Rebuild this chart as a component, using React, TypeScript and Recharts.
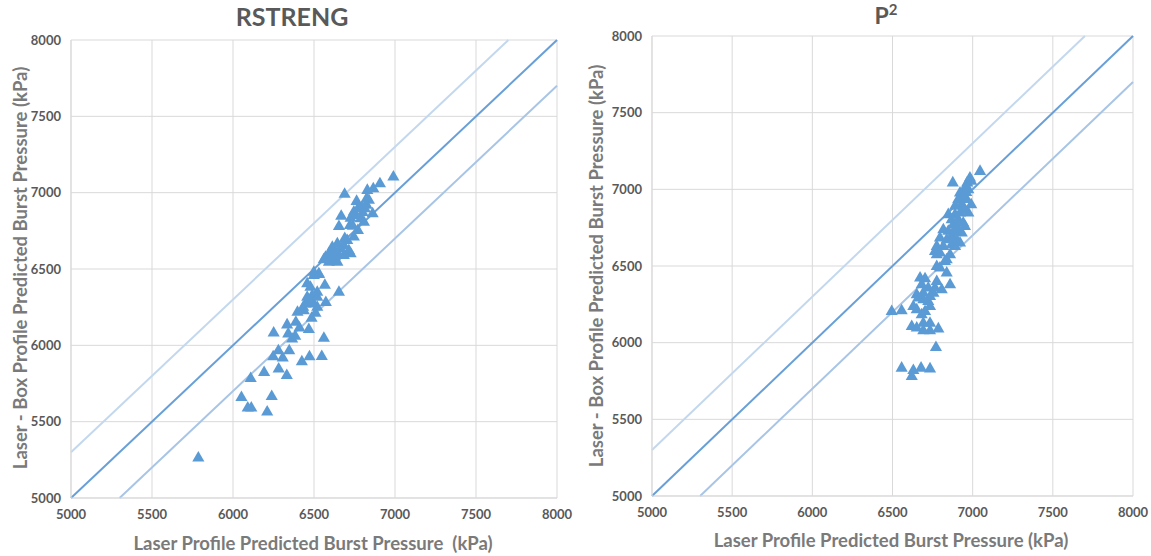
import React from "react";
import {
  ScatterChart,
  Scatter,
  XAxis,
  YAxis,
  ZAxis,
  CartesianGrid,
  ReferenceLine,
} from "recharts";

const axisTicks = [5000, 5500, 6000, 6500, 7000, 7500, 8000];
const bandOffset = 300;

const rstrengLaser = [
  5786, 6052, 6091, 6113, 6211, 6239, 6109, 6192, 6282, 6332, 6251, 6248, 6280, 6307, 6347, 6425,
  6472, 6548, 6561, 6468, 6365, 6341, 6384, 6410, 6334, 6388, 6398, 6437, 6485, 6509, 6573, 6654,
  6567, 6458, 6478, 6448, 6468, 6499, 6520, 6489, 6520, 6433, 6458, 6499, 6530, 6520, 6990, 6907,
  6866, 6829, 6825, 6839, 6825, 6689, 6763, 6771, 6814, 6862, 6668, 6726, 6757, 6788, 6808, 6654,
  6722, 6771, 6746, 6705, 6684, 6644, 6613, 6664, 6715, 6623, 6592, 6654, 6571, 6613, 6684, 6726,
  6592, 6644, 6499, 6530, 6798, 6746, 6690, 6630, 6560, 6740, 6800,
];
const rstrengBox = [
  5262, 5658, 5589, 5589, 5564, 5665, 5783, 5822, 5845, 5803, 6081, 5925, 5965, 5917, 5965, 5893,
  5925, 5927, 6046, 6103, 6042, 6075, 6059, 6114, 6134, 6151, 6216, 6227, 6177, 6210, 6280, 6348,
  6394, 6403, 6380, 6271, 6282, 6271, 6315, 6326, 6249, 6249, 6315, 6457, 6464, 6348, 7103, 7059,
  7026, 7015, 6961, 6950, 6917, 6989, 6943, 6895, 6895, 6862, 6845, 6833, 6851, 6829, 6807, 6779,
  6785, 6753, 6709, 6687, 6654, 6665, 6643, 6632, 6621, 6610, 6600, 6589, 6577, 6556, 6589, 6600,
  6545, 6545, 6479, 6468, 6906, 6873, 6700, 6580, 6560, 6780, 6870,
];

const p2Laser = [
  7046, 6876, 6983, 6966, 6991, 6952, 6973, 6921, 6941, 6910, 6963, 6991, 6932, 6890, 6952, 6973,
  6848, 6890, 6921, 6869, 6910, 6941, 6952, 6879, 6817, 6910, 6848, 6932, 6796, 6869, 6838, 6900,
  6921, 6776, 6817, 6869, 6890, 6765, 6796, 6859, 6827, 6776, 6838, 6776, 6796, 6838, 6672, 6703,
  6859, 6776, 6682, 6723, 6765, 6807, 6692, 6755, 6651, 6734, 6661, 6692, 6723, 6734, 6630, 6495,
  6557, 6651, 6703, 6682, 6620, 6651, 6692, 6734, 6692, 6734, 6786, 6771, 6557, 6630, 6678, 6734,
  6620, 6960, 6940, 6900, 6880,
];
const p2Box = [
  7117, 7042, 7074, 7042, 7052, 7009, 6998, 6976, 6954, 6933, 6933, 6900, 6900, 6889, 6867, 6846,
  6835, 6835, 6846, 6802, 6802, 6780, 6758, 6769, 6737, 6737, 6726, 6715, 6682, 6693, 6671, 6671,
  6650, 6628, 6628, 6639, 6628, 6595, 6585, 6573, 6530, 6573, 6541, 6497, 6487, 6454, 6421, 6417,
  6378, 6399, 6378, 6356, 6356, 6345, 6323, 6323, 6312, 6301, 6291, 6280, 6268, 6236, 6236, 6203,
  6208, 6214, 6203, 6182, 6105, 6095, 6127, 6127, 6077, 6077, 6090, 5968, 5834, 5818, 5834, 5829,
  5779, 6980, 6870, 6760, 6720,
];

const toPoints = (xs: number[], ys: number[]) => xs.map((x, i) => ({ x, y: ys[i] }));

const FONT = "Lato, 'Open Sans', sans-serif";
const TICK_COLOR = "#595959";
const TITLE_COLOR = "#7A7A7A";
const MARKER = "#5B9BD5";

type PanelProps = {
  data: { x: number; y: number }[];
  left: number;
  width: number;
  top: number;
  bottom: number;
  yAxisWidth: number;
  right: number;
};

function Panel({ data, left, width, top, bottom, yAxisWidth, right }: PanelProps) {
  const tickStyle = { fill: TICK_COLOR, fontSize: 13, fontWeight: 700, fontFamily: FONT };
  return (
    <div style={{ position: "absolute", left, top: 0 }}>
      <ScatterChart width={width} height={556} margin={{ top, right, bottom: 0, left: 0 }}>
        <CartesianGrid stroke="#D9D9D9" strokeWidth={1} />
        <XAxis
          type="number"
          dataKey="x"
          domain={[5000, 8000]}
          ticks={axisTicks}
          height={bottom}
          tickLine={false}
          tickSize={0}
          tickMargin={12}
          axisLine={{ stroke: "#D9D9D9" }}
          tick={tickStyle}
          interval={0}
        />
        <YAxis
          type="number"
          dataKey="y"
          domain={[5000, 8000]}
          ticks={axisTicks}
          width={yAxisWidth}
          tickLine={false}
          tickSize={0}
          tickMargin={10}
          axisLine={{ stroke: "#D9D9D9" }}
          tick={tickStyle}
          interval={0}
        />
        <ZAxis range={[27, 27]} />
        <ReferenceLine
          segment={[{ x: 5000, y: 5000 + bandOffset }, { x: 8000 - bandOffset, y: 8000 }]}
          stroke="#C3D8EE"
          strokeWidth={2}
        />
        <ReferenceLine
          segment={[{ x: 5000 + bandOffset, y: 5000 }, { x: 8000, y: 8000 - bandOffset }]}
          stroke="#A8C5E6"
          strokeWidth={2}
        />
        <ReferenceLine
          segment={[{ x: 5000, y: 5000 }, { x: 8000, y: 8000 }]}
          stroke="#689FD8"
          strokeWidth={2}
        />
        <Scatter data={data} shape="triangle" fill={MARKER} isAnimationActive={false} />
      </ScatterChart>
    </div>
  );
}

export default function App() {
  const rstreng = toPoints(rstrengLaser, rstrengBox);
  const p2 = toPoints(p2Laser, p2Box);
  const titleStyle = { fontFamily: FONT, fontWeight: 700 as const };
  return (
    <div
      style={{
        position: "absolute",
        left: 0,
        top: 0,
        width: 1151,
        height: 556,
        background: "#fff",
        overflow: "hidden",
      }}
    >
      <Panel data={rstreng} left={0} width={580} top={40} bottom={58} yAxisWidth={71} right={23} />
      <Panel data={p2} left={580} width={571} top={36} bottom={60} yAxisWidth={72} right={18} />
      <svg
        width={1151}
        height={556}
        style={{ position: "absolute", left: 0, top: 0, pointerEvents: "none" }}
      >
        <text x={292} y={26} textAnchor="middle" fill={TICK_COLOR} fontSize={25} {...titleStyle}>
          RSTRENG
        </text>
        <text x={886} y={24} textAnchor="middle" fill={TICK_COLOR} fontSize={23} {...titleStyle}>
          P
          <tspan fontSize={15} dy={-9}>
            2
          </tspan>
        </text>
        <text
          x={313}
          y={550}
          textAnchor="middle"
          fill={TITLE_COLOR}
          fontSize={18.5}
          style={{ whiteSpace: "pre" }}
          {...titleStyle}
        >
          {"Laser Profile Predicted Burst Pressure  (kPa)"}
        </text>
        <text x={891} y={547} textAnchor="middle" fill={TITLE_COLOR} fontSize={18.5} {...titleStyle}>
          Laser Profile Predicted Burst Pressure (kPa)
        </text>
        <text
          x={27}
          y={268}
          textAnchor="middle"
          fill={TITLE_COLOR}
          fontSize={18.5}
          transform="rotate(-90 27 268)"
          {...titleStyle}
        >
          Laser - Box Profile Predicted Burst Pressure (kPa)
        </text>
        <text
          x={603}
          y={266}
          textAnchor="middle"
          fill={TITLE_COLOR}
          fontSize={18.5}
          transform="rotate(-90 603 266)"
          {...titleStyle}
        >
          Laser - Box Profile Predicted Burst Pressure (kPa)
        </text>
      </svg>
    </div>
  );
}
